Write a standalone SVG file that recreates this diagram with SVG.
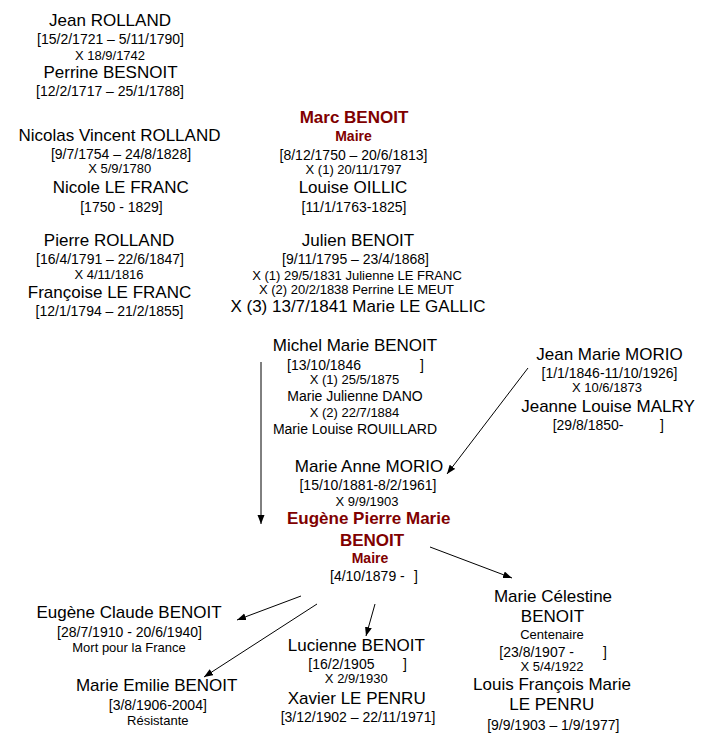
<svg xmlns="http://www.w3.org/2000/svg" width="703" height="753" viewBox="0 0 703 753">
<style>
text{font-family:"Liberation Sans",Arial,sans-serif;fill:#000;text-anchor:middle}
.n{font-size:17px}
.d{font-size:14px}
.s{font-size:13px}
.r{font-size:17px;font-weight:bold;fill:#800000}
.rm{font-size:14px;font-weight:bold;fill:#800000}
.st{text-anchor:start}
.c line{stroke:#000;stroke-width:1;fill:none;marker-end:url(#ah)}
</style>
<defs>
<marker id="ah" markerUnits="userSpaceOnUse" markerWidth="10" markerHeight="8" refX="9" refY="3.5" orient="auto">
<path d="M0,0 L9,3.5 L0,7 z" fill="#000"/>
</marker>
</defs>
<rect width="703" height="753" fill="#fff"/>
<g class="c" id="connectors">
<line x1="261" y1="362" x2="261" y2="524"/>
<line x1="528" y1="368" x2="447" y2="474"/>
<line x1="430" y1="547" x2="512" y2="578"/>
<line x1="301" y1="596" x2="237" y2="620"/>
<line x1="317" y1="604" x2="204" y2="677"/>
<line x1="375" y1="604" x2="366" y2="636"/>
</g>
<g id="jean-rolland">
<text class="n" x="110" y="26">Jean ROLLAND</text>
<text class="d" x="110.5" y="44">[15/2/1721 – 5/11/1790]</text>
<text class="s" x="110" y="60">X 18/9/1742</text>
<text class="n" x="110.5" y="78">Perrine BESNOIT</text>
<text class="d" x="110" y="96">[12/2/1717 – 25/1/1788]</text>
</g>
<g id="nicolas-rolland">
<text class="n" x="119.5" y="141">Nicolas Vincent ROLLAND</text>
<text class="d" x="121" y="159">[9/7/1754 – 24/8/1828]</text>
<text class="s" x="119.7" y="173">X 5/9/1780</text>
<text class="n" x="120.7" y="193">Nicole LE FRANC</text>
<text class="d" x="121.5" y="212">[1750 - 1829]</text>
</g>
<g id="pierre-rolland">
<text class="n" x="109" y="245.5">Pierre ROLLAND</text>
<text class="d" x="110" y="263.5">[16/4/1791 – 22/6/1847]</text>
<text class="s" x="109" y="279">X 4/11/1816</text>
<text class="n" x="109.5" y="298">Françoise LE FRANC</text>
<text class="d" x="109.5" y="316">[12/1/1794 – 21/2/1855]</text>
</g>
<g id="marc-benoit">
<text class="r" x="354" y="123">Marc BENOIT</text>
<text class="rm" x="353.5" y="140.5">Maire</text>
<text class="d" x="353.5" y="160">[8/12/1750 – 20/6/1813]</text>
<text class="s" x="353.5" y="174">X (1) 20/11/1797</text>
<text class="n" x="353" y="193">Louise OILLIC</text>
<text class="d" x="354" y="212">[11/1/1763-1825]</text>
</g>
<g id="julien-benoit">
<text class="n" x="358" y="245.5">Julien BENOIT</text>
<text class="d" x="355.5" y="264">[9/11/1795 – 23/4/1868]</text>
<text class="s" x="357" y="280">X (1) 29/5/1831 Julienne LE FRANC</text>
<text class="s" x="356.5" y="293.5">X (2) 20/2/1838 Perrine LE MEUT</text>
<text class="n" x="358" y="312">X (3) 13/7/1841 Marie LE GALLIC</text>
</g>
<g id="michel-benoit">
<text class="n" x="355" y="351">Michel Marie BENOIT</text>
<text class="d st" x="287" y="370">[13/10/1846<tspan x="420">]</tspan></text>
<text class="s" x="354.5" y="384">X (1) 25/5/1875</text>
<text class="d" x="355" y="401">Marie Julienne DANO</text>
<text class="s" x="354.5" y="416.5">X (2) 22/7/1884</text>
<text class="d" x="355" y="434">Marie Louise ROUILLARD</text>
</g>
<g id="jean-marie-morio">
<text class="n" x="609.5" y="360">Jean Marie MORIO</text>
<text class="d" x="609.5" y="378">[1/1/1846-11/10/1926]</text>
<text class="s" x="607" y="392">X 10/6/1873</text>
<text class="n" x="608" y="412">Jeanne Louise MALRY</text>
<text class="d st" x="552.7" y="430">[29/8/1850-<tspan x="660">]</tspan></text>
</g>
<g id="eugene-pierre-benoit">
<text class="n" x="369" y="472">Marie Anne MORIO</text>
<text class="d" x="368" y="490">[15/10/1881-8/2/1961]</text>
<text class="s" x="367" y="505.5">X 9/9/1903</text>
<text class="r" x="368.7" y="524">Eugène Pierre Marie</text>
<text class="r" x="372" y="546">BENOIT</text>
<text class="rm" x="370" y="563">Maire</text>
<text class="d st" x="330" y="581">[4/10/1879 -<tspan x="414">]</tspan></text>
</g>
<g id="eugene-claude-benoit">
<text class="n" x="129" y="618">Eugène Claude BENOIT</text>
<text class="d" x="129.5" y="637">[28/7/1910 - 20/6/1940]</text>
<text class="s" x="129" y="652">Mort pour la France</text>
</g>
<g id="marie-emilie-benoit">
<text class="n" x="156.7" y="690.5">Marie Emilie BENOIT</text>
<text class="d" x="157.8" y="709.5">[3/8/1906-2004]</text>
<text class="s" x="157.8" y="725">Résistante</text>
</g>
<g id="lucienne-benoit">
<text class="n" x="356.3" y="651">Lucienne BENOIT</text>
<text class="d st" x="308.3" y="669">[16/2/1905<tspan x="403">]</tspan></text>
<text class="s" x="356.3" y="683">X 2/9/1930</text>
<text class="n" x="356.7" y="704">Xavier LE PENRU</text>
<text class="d" x="358" y="722">[3/12/1902 – 22/11/1971]</text>
</g>
<g id="marie-celestine-benoit">
<text class="n" x="553" y="601.5">Marie Célestine</text>
<text class="n" x="552.5" y="621.5">BENOIT</text>
<text class="s" x="552" y="639">Centenaire</text>
<text class="d st" x="499.3" y="656.5">[23/8/1907 -<tspan x="603">]</tspan></text>
<text class="s" x="552" y="670.5">X 5/4/1922</text>
<text class="n" x="552" y="690">Louis François Marie</text>
<text class="n" x="551.7" y="710">LE PENRU</text>
<text class="d" x="553.3" y="729.5">[9/9/1903 – 1/9/1977]</text>
</g>
</svg>
